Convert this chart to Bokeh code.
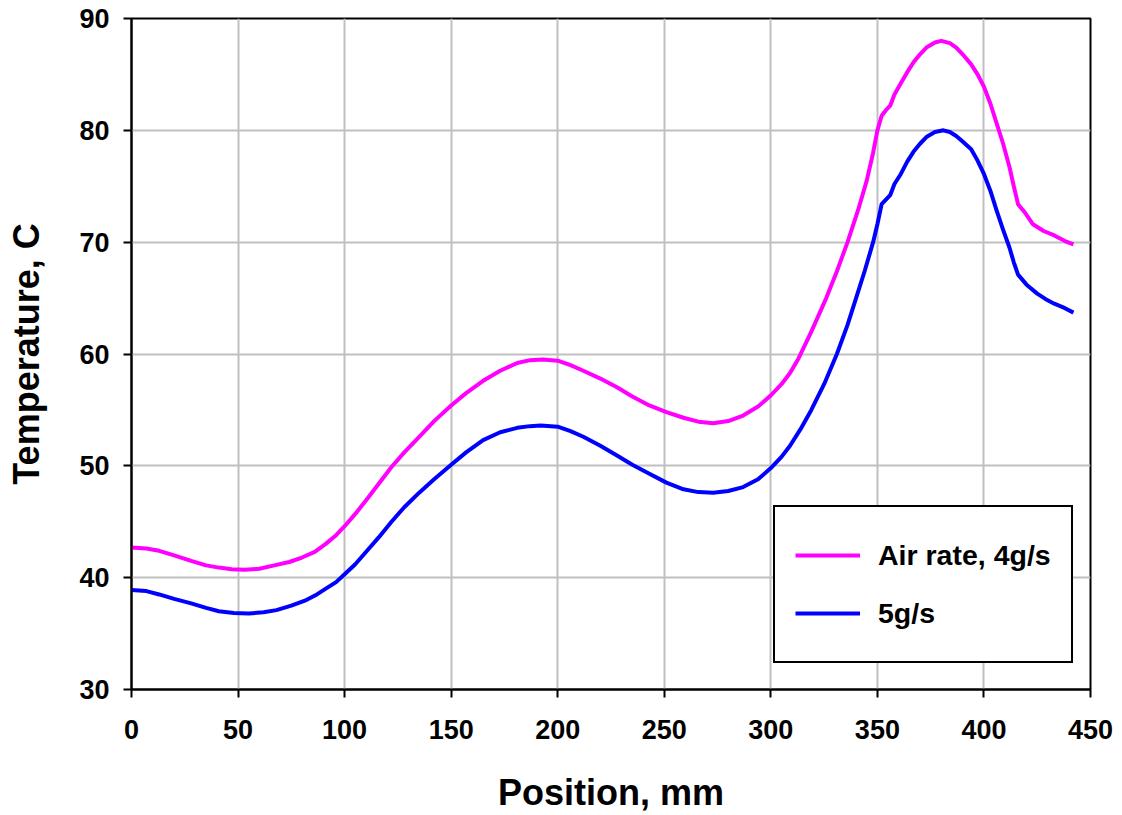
from bokeh.plotting import figure
from bokeh.models import Range1d, FixedTicker, Legend, LegendItem
from bokeh.embed import file_html
from bokeh.resources import INLINE

# Air rate 4 g/s
x_4gs = [0, 7, 13, 20, 28, 35, 41, 47, 53, 60, 67, 74, 80, 86, 91, 96, 100, 105, 110,
         116, 122, 128, 135, 142, 150, 157, 165, 173, 181, 187, 193, 200, 206, 212,
         220, 228, 235, 243, 251, 259, 266, 273, 280, 287, 294, 300, 305, 309, 313,
         319, 326, 331, 336, 341, 345, 348, 350, 352, 354, 356, 358, 361, 364, 367,
         370, 373, 377, 380, 384, 387, 390, 394, 397, 400, 403, 406, 409, 412, 414,
         416, 419, 423, 428, 433, 438, 442]
t_4gs = [42.7, 42.6, 42.4, 42.0, 41.5, 41.1, 40.9, 40.75, 40.7, 40.8, 41.1, 41.4, 41.8,
         42.3, 43.0, 43.8, 44.6, 45.7, 46.9, 48.4, 49.9, 51.2, 52.6, 54.0, 55.4, 56.5,
         57.6, 58.5, 59.2, 59.45, 59.5, 59.4, 59.0, 58.5, 57.8, 57.0, 56.2, 55.4, 54.8,
         54.3, 53.95, 53.8, 54.0, 54.5, 55.3, 56.3, 57.3, 58.3, 59.6, 62.0, 65.0, 67.4,
         70.0, 72.9, 75.5, 78.0, 80.0, 81.3, 81.8, 82.2, 83.2, 84.2, 85.2, 86.1, 86.8,
         87.4, 87.85, 88.0, 87.8, 87.4, 86.8, 85.9, 85.0, 83.9, 82.4, 80.6, 78.8, 76.7,
         75.0, 73.4, 72.7, 71.6, 71.0, 70.6, 70.1, 69.8]

# 5 g/s
x_5gs = [0, 7, 13, 20, 28, 35, 41, 48, 55, 62, 68, 75, 82, 87, 91, 96, 100, 105, 110,
         116, 122, 128, 135, 142, 150, 157, 165, 173, 181, 187, 192, 200, 206, 212,
         220, 228, 235, 243, 251, 259, 266, 273, 280, 287, 294, 300, 305, 309, 314,
         319, 325, 331, 336, 340, 344, 348, 350, 352, 354, 356, 358, 361, 364, 367,
         370, 373, 377, 381, 384, 387, 390, 394, 397, 400, 403, 406, 409, 412, 414,
         416, 420, 425, 429, 433, 438, 442]
t_5gs = [38.9, 38.8, 38.5, 38.1, 37.7, 37.3, 37.0, 36.85, 36.8, 36.9, 37.1, 37.5, 38.0,
         38.5, 39.0, 39.6, 40.3, 41.2, 42.3, 43.6, 45.0, 46.3, 47.6, 48.8, 50.1, 51.2,
         52.3, 53.0, 53.4, 53.55, 53.6, 53.5, 53.1, 52.6, 51.8, 50.9, 50.1, 49.3, 48.5,
         47.9, 47.65, 47.6, 47.75, 48.1, 48.8, 49.8, 50.8, 51.8, 53.3, 55.0, 57.3, 60.0,
         62.6, 65.0, 67.4, 70.0, 71.6, 73.4, 73.8, 74.2, 75.2, 76.1, 77.2, 78.1, 78.8,
         79.4, 79.85, 80.0, 79.85, 79.5, 79.0, 78.3, 77.3, 76.1, 74.6, 72.8, 71.1, 69.5,
         68.2, 67.1, 66.2, 65.4, 64.9, 64.5, 64.1, 63.7]

x_ticks = [0, 50, 100, 150, 200, 250, 300, 350, 400, 450]
y_ticks = [30, 40, 50, 60, 70, 80, 90]

FONT = "Liberation Sans"

p = figure(width=1122, height=815, output_backend="svg", toolbar_location=None,
           x_range=Range1d(0, 450), y_range=Range1d(30, 90),
           min_border_left=131, min_border_right=32, min_border_top=18,
           min_border_bottom=126)
p.background_fill_color = "white"
p.border_fill_color = "white"
p.outline_line_color = "black"
p.outline_line_width = 2

r1 = p.line(x_4gs, t_4gs, line_color="#FF00FF", line_width=4, line_join="round")
r2 = p.line(x_5gs, t_5gs, line_color="#0000FF", line_width=4, line_join="round")

for ax, ticks in ((p.xaxis[0], x_ticks), (p.yaxis[0], y_ticks)):
    ax.ticker = FixedTicker(ticks=ticks)
    ax.axis_line_color = "black"
    ax.axis_line_width = 2
    ax.major_tick_line_color = "black"
    ax.major_tick_line_width = 2
    ax.major_tick_out = 8
    ax.major_tick_in = 0
    ax.minor_tick_line_color = None
    ax.major_label_text_font = FONT
    ax.major_label_text_font_style = "bold"
    ax.major_label_text_font_size = "27px"
    ax.major_label_text_color = "black"
    ax.axis_label_text_font = FONT
    ax.axis_label_text_font_style = "bold"
    ax.axis_label_text_font_size = "36px"
    ax.axis_label_text_color = "black"

p.xaxis.axis_label = "Position, mm"
p.yaxis.axis_label = "Temperature, C"
p.xaxis.major_label_standoff = 22
p.yaxis.major_label_standoff = 14
p.xaxis.axis_label_standoff = 30
p.yaxis.axis_label_standoff = 29

p.xgrid.ticker = FixedTicker(ticks=x_ticks)
p.ygrid.ticker = FixedTicker(ticks=y_ticks)
p.grid.grid_line_color = "#C0C0C0"
p.grid.grid_line_width = 2

legend = Legend(items=[LegendItem(label="Air rate, 4g/s", renderers=[r1]),
                       LegendItem(label="5g/s", renderers=[r2])],
                location=(642, 26))
legend.border_line_color = "black"
legend.border_line_width = 2
legend.border_line_alpha = 1
legend.background_fill_color = "white"
legend.background_fill_alpha = 1
legend.padding = 20
legend.margin = 0
legend.spacing = 2
legend.glyph_width = 65
legend.glyph_height = 56
legend.label_height = 56
legend.label_standoff = 18
legend.label_text_font = FONT
legend.label_text_font_style = "bold"
legend.label_text_font_size = "28.5px"
legend.label_text_color = "black"
p.add_layout(legend)

open("out.html", "w").write(file_html(p, INLINE))
